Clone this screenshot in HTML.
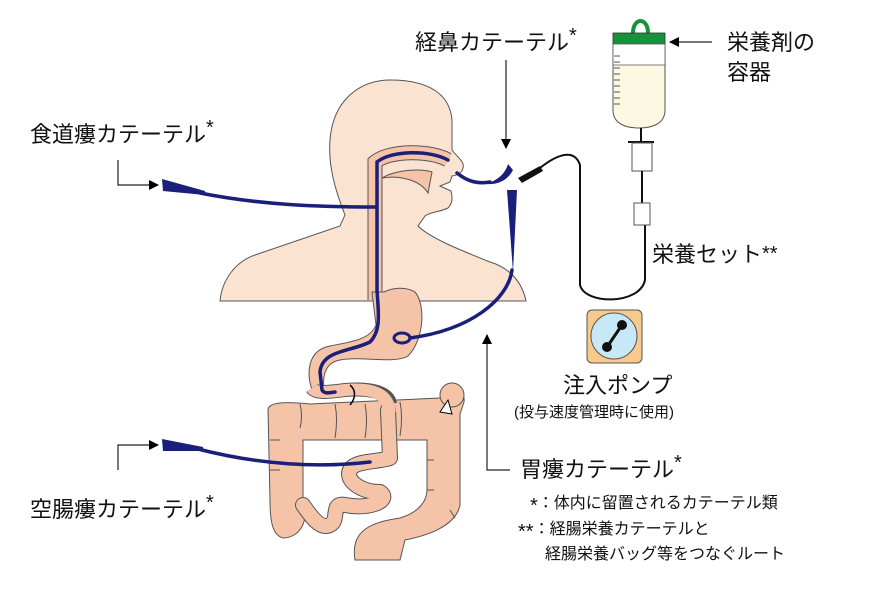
<!DOCTYPE html>
<html><head><meta charset="utf-8"><style>
body{margin:0;background:#fff;}
svg{display:block}
text{font-family:"Liberation Sans","Noto Sans CJK JP",sans-serif;fill:#111}
</style></head><body>
<svg width="891" height="594" viewBox="0 0 891 594" xmlns="http://www.w3.org/2000/svg">
<defs><marker id="ah" markerWidth="10" markerHeight="10" refX="9" refY="5" orient="auto" markerUnits="userSpaceOnUse"><path d="M0,0 L10,5 L0,10 Z" fill="#000"/></marker></defs>
<!-- head/torso -->
<path d="M220,301 C222,280 235,262 255,255 L340,226 L345,215 C335,190 328,165 330,140 C333,100 360,80 390,80 C430,80 450,95 452,120 L452,150 C458,158 465,162 463,168 C462,173 458,175 452,176 L450,182 L440,186 L451,191 C453,198 452,204 448,208 C440,212 430,212 425,216 L418,226 C430,238 460,250 490,262 C510,268 522,282 526,301 Z" fill="#fbe3d2" stroke="#555" stroke-width="1"/>
<!-- nasal cavity / esophagus -->
<path d="M448,160 C430,150 390,150 375,162 L375,300" fill="none" stroke="#555" stroke-width="15"/>
<path d="M448,160 C430,150 390,150 375,162 L375,300" fill="none" stroke="#f5c4a8" stroke-width="13"/>
<path d="M382,178 C395,170 420,168 432,172 L428,193 C420,180 400,175 382,178Z" fill="#f5c4a8" stroke="#555" stroke-width="1"/>
<!-- colon -->
<path d="M268,410 C268,401 290,402 310,404 L440,398 C444,386 466,386 464,402 L460,414 L460,505 C456,525 430,535 405,540 L400,560 L355,560 C350,530 372,522 400,518 C420,512 427,500 427,490 L427,440 L303,440 L303,500 C310,520 300,538 283,538 C272,535 270,520 270,500 Z" fill="#f5c4a8" stroke="#555" stroke-width="1"/>
<g stroke="#555" stroke-width="1" fill="none">
<path d="M300,404 C302,412 302,420 300,428"/><path d="M335,404 C337,414 337,426 335,438"/><path d="M365,404 C367,414 367,426 365,438"/><path d="M400,402 C402,412 402,424 400,436"/>
<path d="M427,460 L434,460"/><path d="M427,490 L434,490"/><path d="M270,440 L280,440"/><path d="M270,470 L280,470"/><path d="M450,510 L455,518"/>
</g>
<circle cx="452" cy="395" r="12" fill="#f5c4a8" stroke="#555"/>
<path d="M440,412 L448,400 L452,414Z" fill="#fff" stroke="#000" stroke-width="1"/>
<!-- small intestine -->
<g fill="none" stroke-linecap="round" stroke-linejoin="round">
<path d="M388,410 L390,458 C380,462 355,460 350,470 C345,480 360,492 380,492 C392,500 370,510 345,505 C330,502 340,520 330,525 C320,530 310,515 303,505" stroke="#555" stroke-width="16"/>
<path d="M388,410 L390,458 C380,462 355,460 350,470 C345,480 360,492 380,492 C392,500 370,510 345,505 C330,502 340,520 330,525 C320,530 310,515 303,505" stroke="#f5c4a8" stroke-width="14"/>
</g>
<!-- stomach -->
<path d="M372,292 L384,292 C392,288 405,286 415,292 C426,305 424,340 408,356 C395,364 360,356 340,360 C328,362 322,372 324,388 L312,390 C306,372 308,350 330,346 C350,342 370,340 376,325 Z" fill="#f5c4a8" stroke="#555" stroke-width="1"/>
<path d="M312,388 C316,394 330,392 345,390 C370,388 388,392 390,404" fill="none" stroke="#555" stroke-width="14"/>
<path d="M312,388 C316,394 330,392 345,390 C370,388 388,392 390,412" fill="none" stroke="#f5c4a8" stroke-width="12"/>
<path d="M350,385 C356,390 356,398 350,405" fill="none" stroke="#000" stroke-width="1.5"/>
<!-- catheters -->
<g fill="none" stroke="#1a1f7a" stroke-width="3.5" stroke-linecap="round">
<path d="M448,160 C430,150 392,150 377,162 L377,290 C378,310 382,330 370,342 C350,352 322,350 320,372 L322,390 C325,395 332,392 335,392"/>
<path d="M200,193 C260,205 320,207 375,207"/>
<path d="M457,173 C468,182 478,184 490,182"/>
<path d="M512,270 C508,300 470,330 410,338"/>
<path d="M198,449 C260,465 320,468 370,462"/>
</g>
<ellipse cx="402" cy="338" rx="8" ry="5" fill="none" stroke="#1a1f7a" stroke-width="3"/>
<path d="M162,179 L163,191 L205,195 L205,191 Z" fill="#1a1f7a"/>
<path d="M162,439 L163,451 L203,451 L203,447 Z" fill="#1a1f7a"/>
<path d="M486,184 C498,180 505,174 508,164 L513,170 C508,180 498,185 486,184Z" fill="#1a1f7a"/>
<path d="M507,190 L517,190 L513,272 Z" fill="#1a1f7a"/>
<!-- connector -->
<path d="M518,178 L540,166 L543,171 L522,183 Z" fill="#111"/>
<path d="M540,168 C560,152 575,150 580,165 L580,285 C585,305 640,305 645,280 L645,225" fill="none" stroke="#111" stroke-width="2"/>
<!-- bag -->
<path d="M633,33 C633,17 648,17 648,33" fill="none" stroke="#14933a" stroke-width="4"/>
<rect x="613" y="33" width="52" height="11" fill="#14933a" stroke="#333" stroke-width="0.8"/>
<path d="M613,44 L665,44 L665,110 C665,125 650,128 639,128 C628,128 613,125 613,110 Z" fill="#fdf8e2" stroke="#555"/>
<path d="M613,44 L665,44 L665,65 L613,65 Z" fill="#fff" stroke="#555" stroke-width="0.8"/>
<g stroke="#555" stroke-width="1"><line x1="614" y1="56" x2="620" y2="56"/><line x1="614" y1="62" x2="620" y2="62"/><line x1="614" y1="68" x2="620" y2="68"/><line x1="614" y1="74" x2="620" y2="74"/><line x1="614" y1="80" x2="620" y2="80"/><line x1="614" y1="86" x2="620" y2="86"/><line x1="614" y1="92" x2="620" y2="92"/><line x1="614" y1="98" x2="620" y2="98"/><line x1="614" y1="104" x2="620" y2="104"/></g>
<line x1="641" y1="128" x2="641" y2="142" stroke="#111" stroke-width="2"/>
<line x1="628" y1="142" x2="654" y2="142" stroke="#111" stroke-width="2"/>
<rect x="632" y="143" width="20" height="28" fill="#fff" stroke="#555"/>
<line x1="642" y1="171" x2="642" y2="203" stroke="#111" stroke-width="2"/>
<rect x="634" y="203" width="16" height="22" fill="#fff" stroke="#555"/>
<!-- pump -->
<rect x="587" y="310" width="55" height="53" rx="5" fill="#f7c98a" stroke="#555"/>
<circle cx="614" cy="336" r="23" fill="#c7e8f7" stroke="#555"/>
<line x1="607" y1="347" x2="622" y2="325" stroke="#111" stroke-width="3"/>
<circle cx="607" cy="347" r="5" fill="#111"/><circle cx="622" cy="325" r="5" fill="#111"/>
<!-- arrows -->
<g stroke="#222" stroke-width="1.2" fill="none">
<line x1="506" y1="60" x2="506" y2="148" marker-end="url(#ah)"/>
<line x1="712" y1="42" x2="670" y2="42" marker-end="url(#ah)"/>
<polyline points="118,160 118,185 158,185" marker-end="url(#ah)"/>
<polyline points="118,470 118,445 158,445" marker-end="url(#ah)"/>
<polyline points="510,470 487,470 487,335" marker-end="url(#ah)"/>
</g>
<!-- text -->
<text x="415" y="50" font-size="22">経鼻カテーテル<tspan font-size="20" dy="-8">*</tspan></text>
<text x="30" y="142" font-size="22">食道瘻カテーテル<tspan font-size="20" dy="-8">*</tspan></text>
<text x="727" y="50" font-size="22">栄養剤の</text>
<text x="727" y="80" font-size="22">容器</text>
<text x="652" y="262" font-size="22">栄養セット<tspan font-size="20" dy="-2">**</tspan></text>
<text x="563" y="393" font-size="22">注入ポンプ</text>
<text x="514" y="417" font-size="15">(投与速度管理時に使用)</text>
<text x="520" y="477" font-size="22">胃瘻カテーテル<tspan font-size="20" dy="-8">*</tspan></text>
<text x="30" y="517" font-size="22">空腸瘻カテーテル<tspan font-size="20" dy="-8">*</tspan></text>
<text x="530" y="508" font-size="16"><tspan font-size="20" dy="4">*</tspan><tspan dy="-4">：体内に留置されるカテーテル類</tspan></text>
<text x="518" y="534" font-size="16"><tspan font-size="20" dy="4">**</tspan><tspan dy="-4">：経腸栄養カテーテルと</tspan></text>
<text x="545" y="559" font-size="16">経腸栄養バッグ等をつなぐルート</text>
</svg>
</body></html>
